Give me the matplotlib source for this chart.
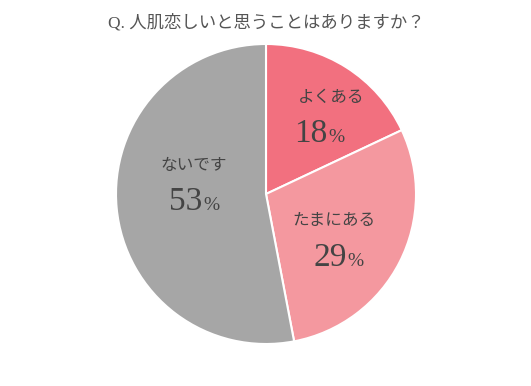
import matplotlib
matplotlib.use("Agg")
import matplotlib.pyplot as plt

# Survey answers
labels = ["よくある", "たまにある", "ないです"]
values = [18, 29, 53]
colors = ["#F2707F", "#F4989F", "#A6A6A6"]
title = "Q. 人肌恋しいと思うことはありますか？"

# text positions in data coords (pie radius = 1)
label_pos = [(0.433, 0.647), (0.453, -0.175), (-0.48, 0.187)]
pct_pos = [(0.36, 0.347), (0.487, -0.48), (-0.473, -0.107)]

JP = ["Noto Sans CJK JP", "DejaVu Sans"]
SERIF = ["Liberation Serif", "Noto Sans CJK JP"]
TEXT = "#444444"

fig = plt.figure(figsize=(5.31, 3.86), dpi=100)
ax = fig.add_axes([116 / 531, 42 / 386, 300 / 531, 300 / 386])

ax.pie(values, colors=colors, startangle=90, counterclock=False, radius=1,
       wedgeprops=dict(edgecolor="white", linewidth=1.5))
ax.set_xlim(-1, 1)
ax.set_ylim(-1, 1)
ax.axis("off")

split = 0.05
for lab, v, (lx, ly), (px, py) in zip(labels, values, label_pos, pct_pos):
    ax.text(lx, ly, lab, ha="center", va="center", fontsize=12,
            color=TEXT, family=JP)
    ax.text(px + split, py, str(v), ha="right", va="baseline",
            fontsize=24, color=TEXT, family=SERIF)
    ax.text(px + split + 0.005, py, "%", ha="left", va="baseline",
            fontsize=14, color=TEXT, family=SERIF)

fig.text(266 / 531, 1 - 23 / 386, title, ha="center", va="center",
         fontsize=12.5, color="#555555", family=SERIF)

fig.savefig("out.png", dpi=100)
